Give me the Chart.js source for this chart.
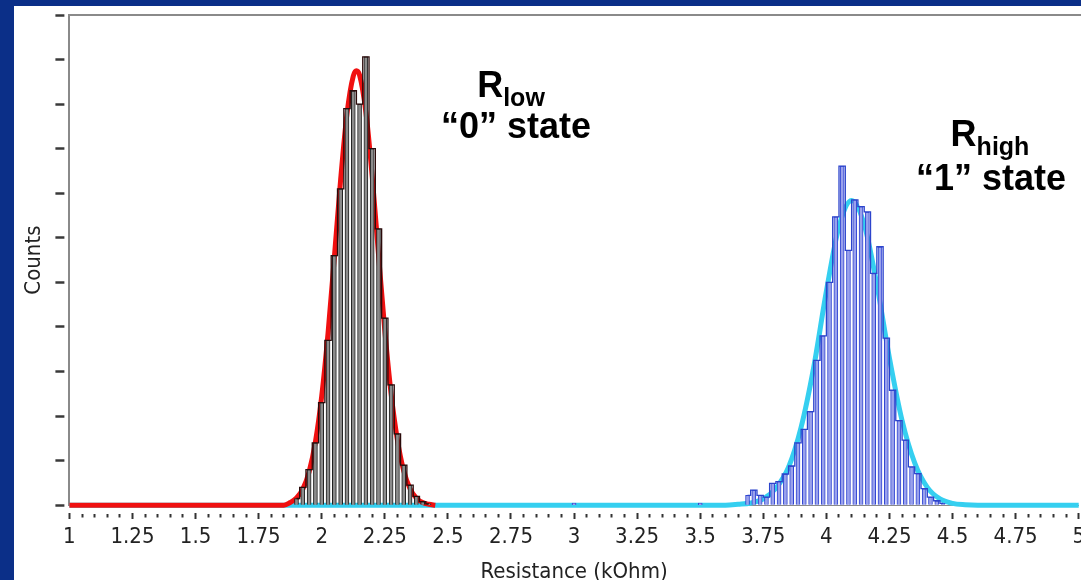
<!DOCTYPE html>
<html>
<head>
<meta charset="utf-8">
<title>Resistance distribution</title>
<script src="https://cdn.jsdelivr.net/npm/chart.js@4.4.1/dist/chart.umd.min.js"></script>
<style>
  html, body { margin: 0; padding: 0; }
  body { width: 1081px; height: 580px; background: #0b2f88; position: relative; overflow: hidden; }
  #panel { position: absolute; left: 14px; top: 6px; width: 1067px; height: 574px; background: #fff; overflow: hidden; }
  .note { position: absolute; transform: translateX(-50%); font-family: "Liberation Sans", Arial, sans-serif;
          font-weight: bold; font-size: 36px; line-height: 36px; color: #000; white-space: nowrap; }
  .note sub { font-size: 25px; line-height: 0; vertical-align: -9px; }
</style>
</head>
<body>

<div id="panel">
  <canvas id="resChart" width="1076" height="580"></canvas>
</div>

<div class="note" style="left:511px; top:67px;">R<sub>low</sub></div>
<div class="note" style="left:516px; top:108px;">“0” state</div>
<div class="note" style="left:990px; top:116px;">R<sub>high</sub></div>
<div class="note" style="left:991px; top:160px;">“1” state</div>

<script>
// tick labels on the resistance axis
const xTickValues = [1, 1.25, 1.5, 1.75, 2, 2.25, 2.5, 2.75, 3, 3.25, 3.5, 3.75, 4, 4.25, 4.5, 4.75, 5];
const xTickLabels = ["1", "1.25", "1.5", "1.75", "2", "2.25", "2.5", "2.75", "3", "3.25", "3.5", "3.75", "4", "4.25", "4.5", "4.75", "5"];

// "0" state histogram (kOhm bin centres / counts)
const lowBins = [1.900, 1.925, 1.950, 1.975, 2.000, 2.025, 2.050, 2.075, 2.100, 2.125, 2.150,
                 2.175, 2.200, 2.225, 2.250, 2.275, 2.300, 2.325, 2.350, 2.375, 2.400, 2.425];
const lowCounts = [1.5, 4, 8, 14, 23, 37, 56, 71, 89, 93, 90,
                   100.6, 80, 62, 42, 27, 16, 9, 4.5, 2, 0.8, 0.3];

// "1" state histogram
const highBins = [3.6875, 3.7125, 3.7375, 3.7625, 3.7875, 3.8125, 3.8375, 3.8625, 3.8875, 3.9125, 3.9375,
                  3.9625, 3.9875, 4.0125, 4.0375, 4.0625, 4.0875, 4.1125, 4.1375, 4.1625, 4.1875, 4.2125,
                  4.2375, 4.2625, 4.2875, 4.3125, 4.3375, 4.3625, 4.3875, 4.4125, 4.4375, 4.4625];
const highCounts = [2.2, 3.4, 2.2, 1.8, 4.9, 5.3, 7, 8.8, 14, 17, 21,
                    32.5, 38, 50, 64.7, 76.1, 57.2, 68.5, 67, 65.8, 52, 58,
                    37.5, 25.8, 19, 14.6, 8.6, 7.1, 3.7, 1.8, 1, 0.4];

// a couple of stray single counts between the peaks
const strayBins = [3.0, 3.5];
const strayCounts = [0.5, 0.5];

// fitted curves
const lowFitX = [1, 1.85, 1.875, 1.9, 1.925, 1.95, 1.975, 2.0, 2.025, 2.05, 2.075, 2.1, 2.125, 2.1375,
                 2.15, 2.175, 2.2, 2.225, 2.25, 2.275, 2.3, 2.325, 2.35, 2.375, 2.4, 2.425, 2.45];
const lowFitY = [0, 0, 0.6, 1.6, 3.6, 7.5, 14.2, 24.5, 38.6, 55.6, 73.1, 87.8, 96.3, 97.5,
                 96.5, 88.2, 73.8, 56.3, 39.2, 25, 14.6, 7.7, 3.7, 1.6, 0.6, 0.2, 0];

const highFitX = [1, 3.6, 3.65, 3.7, 3.75, 3.8, 3.85, 3.9, 3.95, 4.0, 4.05, 4.1,
                  4.15, 4.2, 4.25, 4.3, 4.35, 4.4, 4.45, 4.5, 4.55, 4.6, 5];
const highFitY = [0, 0, 0.2, 0.5, 1.4, 3.8, 8.5, 17.5, 31, 48, 62.5, 68.4,
                  63, 49.5, 33, 19, 9.5, 4, 1.4, 0.4, 0.1, 0, 0];

function pts(xs, ys){
    return xs.map((x, i) => ({ x: x, y: ys[i] }));
}

function majorIndex(v){
    return xTickValues.findIndex(t => Math.abs(t - v) < 1e-6);
}

// top frame line of the plot box
const frameTop = {
    id: "frameTop",
    afterDraw(chart){
        const { ctx, chartArea } = chart;
        ctx.save();
        ctx.strokeStyle = "#8a8a8a";
        ctx.lineWidth = 2;
        ctx.beginPath();
        ctx.moveTo(chartArea.left - 1, chartArea.top);
        ctx.lineTo(chartArea.right + 20, chartArea.top);
        ctx.stroke();
        ctx.restore();
    }
};

Chart.defaults.font.family = "'DejaVu Sans Condensed', 'DejaVu Sans', sans-serif";
Chart.defaults.color = "#222";

new Chart(document.getElementById("resChart"), {
    type: "bar",
    data: {
        datasets: [
            {
                type: "line",
                data: pts(highFitX, highFitY),
                borderColor: "#35cff0",
                borderWidth: 5,
                pointRadius: 0,
                tension: 0.4,
                cubicInterpolationMode: "monotone",
                clip: false,
                order: 5
            },
            {
                type: "line",
                data: pts(lowFitX, lowFitY),
                borderColor: "#f01010",
                borderWidth: 5,
                pointRadius: 0,
                tension: 0.4,
                cubicInterpolationMode: "monotone",
                clip: false,
                order: 4
            },
            {
                data: pts(lowBins, lowCounts),
                backgroundColor: "#8c8c8c",
                borderColor: "#1e1e1e",
                borderWidth: 1,
                barThickness: 4,
                grouped: false,
                order: 2
            },
            {
                data: pts(highBins, highCounts),
                backgroundColor: "#9aa2ec",
                borderColor: "#3044d2",
                borderWidth: 1,
                barThickness: 4,
                grouped: false,
                order: 2
            },
            {
                data: pts(strayBins, strayCounts),
                backgroundColor: "#9aa2ec",
                borderColor: "#3044d2",
                borderWidth: 1,
                barThickness: 4,
                grouped: false,
                order: 2
            },
            {
                type: "line",
                data: pts(lowBins, lowCounts),
                stepped: "middle",
                borderColor: "#2a0a0a",
                borderWidth: 1.3,
                pointRadius: 0,
                order: 1
            },
            {
                type: "line",
                data: pts(highBins, highCounts),
                stepped: "middle",
                borderColor: "#2c44cc",
                borderWidth: 1.3,
                pointRadius: 0,
                order: 1
            }
        ]
    },
    options: {
        responsive: false,
        animation: false,
        layout: { padding: { left: 7, top: 9, right: 0, bottom: 0 } },
        plugins: {
            legend: { display: false },
            tooltip: { enabled: false }
        },
        scales: {
            x: {
                type: "linear",
                offset: false,
                min: 1,
                max: 5,
                ticks: {
                    stepSize: 0.05,
                    autoSkip: false,
                    maxRotation: 0,
                    padding: 5,
                    color: "#222",
                    font: { size: 22 },
                    callback: (v) => {
                        const i = majorIndex(v);
                        return i >= 0 ? xTickLabels[i] : "";
                    }
                },
                grid: {
                    offset: false,
                    drawOnChartArea: false,
                    tickLength: 14,
                    tickColor: "#333",
                    tickWidth: 2,
                    tickBorderDash: (c) => (c.tick && majorIndex(c.tick.value) >= 0) ? [6, 100] : [3.5, 100],
                    tickBorderDashOffset: (c) => (c.tick && majorIndex(c.tick.value) >= 0) ? 99 : 95.5
                },
                border: { color: "#8a8a8a", width: 1 },
                title: {
                    display: true,
                    text: "Resistance (kOhm)",
                    color: "#222",
                    font: { size: 22 },
                    padding: { top: 3, bottom: 1 }
                }
            },
            y: {
                min: 0,
                max: 110,
                ticks: { stepSize: 10, display: false },
                grid: {
                    drawOnChartArea: false,
                    tickLength: 14,
                    tickColor: "#3a3a3a",
                    tickWidth: 2.5,
                    tickBorderDash: [9, 100],
                    tickBorderDashOffset: 0
                },
                border: { color: "#8a8a8a", width: 2 },
                title: {
                    display: true,
                    text: "Counts",
                    color: "#222",
                    font: { size: 22 },
                    padding: { top: 0, bottom: 8 }
                }
            }
        }
    },
    plugins: [frameTop]
});
</script>
</body>
</html>
